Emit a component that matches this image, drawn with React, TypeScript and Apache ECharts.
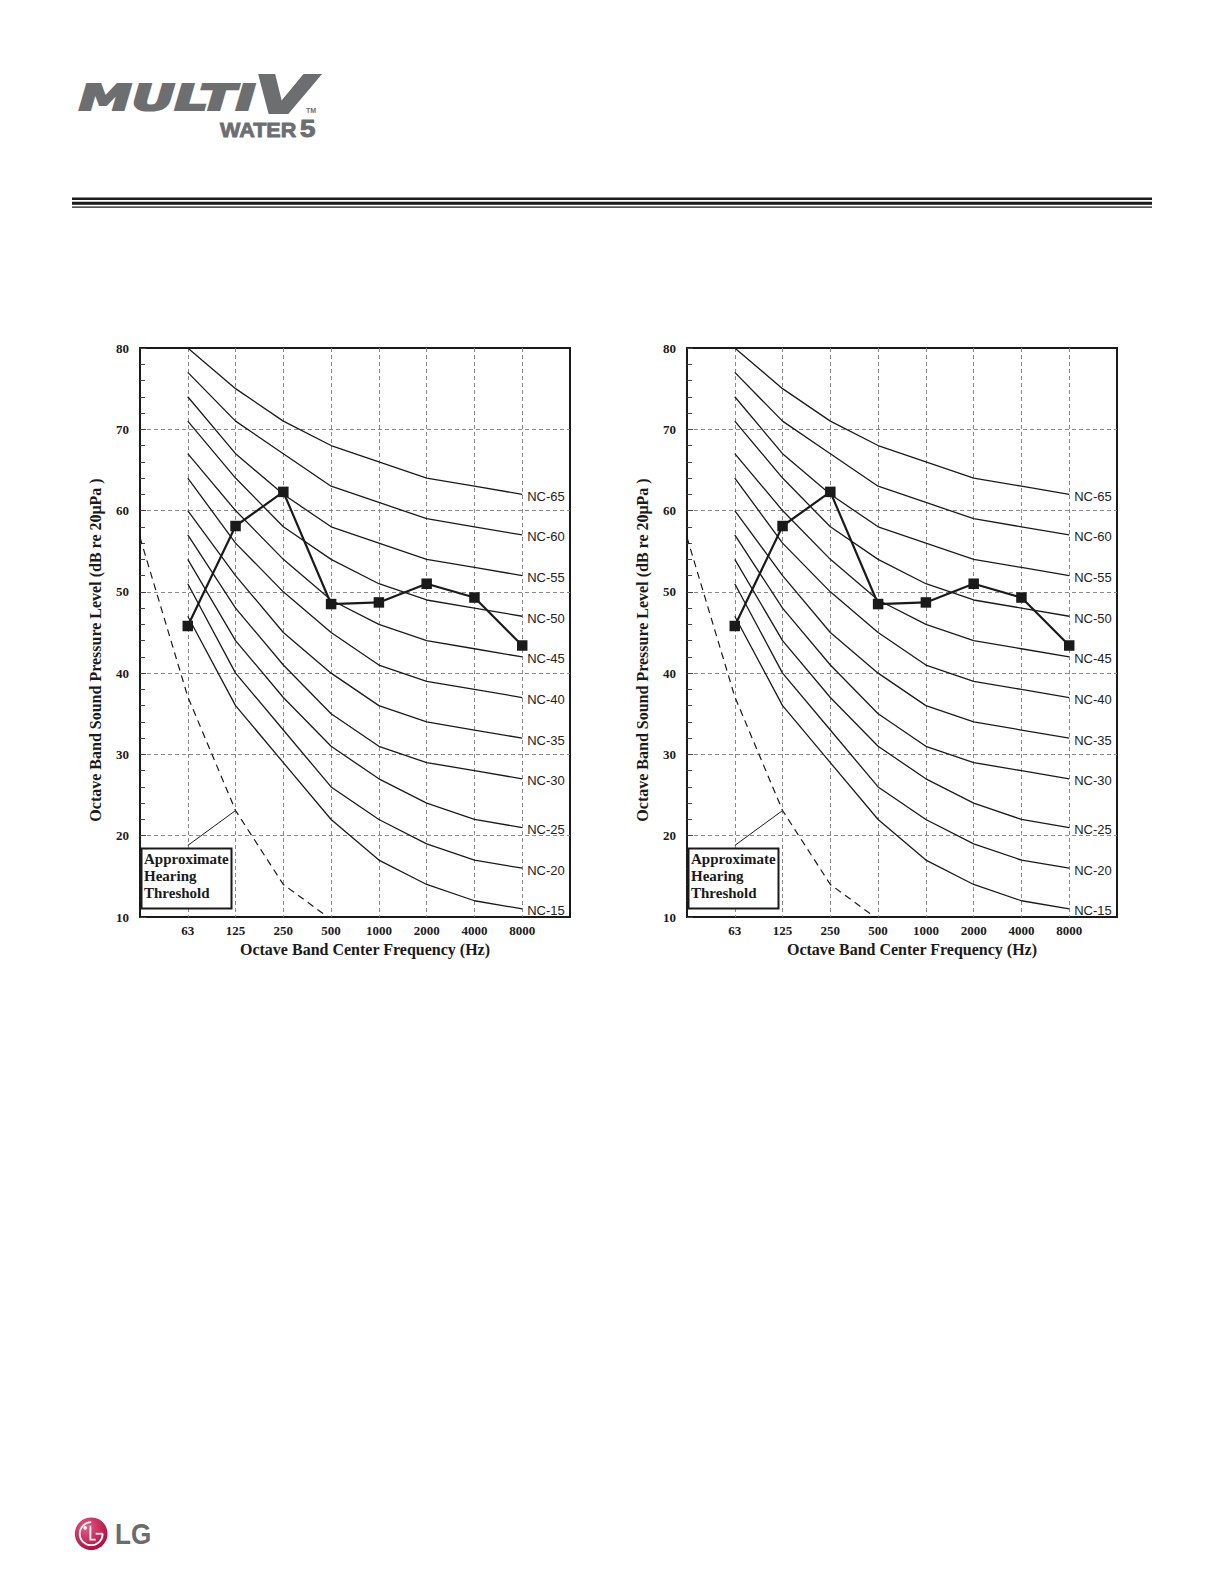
import React, { useEffect, useRef } from "react";
import * as echarts from "echarts";

// ---- data ----
const FREQ_LABELS = ["63", "125", "250", "500", "1000", "2000", "4000", "8000"];
const FREQ_POS = [1, 2, 3, 4, 5, 6, 7, 8];

const NC_65 = [80, 75, 71, 68, 66, 64, 63, 62];
const NC_60 = [77, 71, 67, 63, 61, 59, 58, 57];
const NC_55 = [74, 67, 62, 58, 56, 54, 53, 52];
const NC_50 = [71, 64, 58, 54, 51, 49, 48, 47];
const NC_45 = [67, 60, 54, 49, 46, 44, 43, 42];
const NC_40 = [64, 56, 50, 45, 41, 39, 38, 37];
const NC_35 = [60, 52, 45, 40, 36, 34, 33, 32];
const NC_30 = [57, 48, 41, 35, 31, 29, 28, 27];
const NC_25 = [54, 44, 37, 31, 27, 24, 22, 21];
const NC_20 = [51, 40, 33, 26, 22, 19, 17, 16];
const NC_15 = [47, 36, 29, 22, 17, 14, 12, 11];
const NC_NAMES = ["NC-65", "NC-60", "NC-55", "NC-50", "NC-45", "NC-40", "NC-35", "NC-30", "NC-25", "NC-20", "NC-15"];
const NC_VALUES = [NC_65, NC_60, NC_55, NC_50, NC_45, NC_40, NC_35, NC_30, NC_25, NC_20, NC_15];

const MEASURED = [45.8, 58.1, 62.3, 48.5, 48.7, 51.0, 49.3, 43.4];

const THRESHOLD_X = [0, 1, 2, 3, 4];
const THRESHOLD_DB = [56.7, 37.1, 23.1, 14.0, 9.7];
const ARROW_FROM = [1.0, 18.8];
const ARROW_TO = [2.0, 23.1];

const Y_MIN = 10;
const Y_MAX = 80;
const Y_STEP = 10;

// ---- layout ----
const GRIDS = [
  { left: 140, top: 348, width: 430, height: 569 },
  { left: 687, top: 348, width: 430, height: 569 },
];

const SERIF = "'Liberation Serif', 'Times New Roman', serif";
const SANS = "'Liberation Sans', Arial, sans-serif";
const INK = "#1a1a1a";
const LOGO_GRAY = "#6c6e70";

function pairs(xs: number[], ys: number[]) {
  return xs.map((x, i) => [x, ys[i]]);
}

function buildSeries(idx: number) {
  const out: any[] = [];
  NC_NAMES.forEach((name, k) => {
    out.push({
      type: "line",
      name,
      xAxisIndex: idx,
      yAxisIndex: idx,
      data: pairs(FREQ_POS, NC_VALUES[k]),
      symbol: "none",
      lineStyle: { color: INK, width: 1.3 },
      silent: true,
      endLabel: {
        show: true,
        formatter: "{a}",
        distance: 5,
        offset: [0, 2],
        fontSize: 13,
        fontFamily: SANS,
        color: "#222",
      },
      z: 2,
    });
  });
  out.push({
    type: "line",
    name: "Approximate Hearing Threshold",
    xAxisIndex: idx,
    yAxisIndex: idx,
    data: pairs(THRESHOLD_X, THRESHOLD_DB),
    symbol: "none",
    clip: true,
    lineStyle: { color: INK, width: 1.2, type: [7, 5] },
    silent: true,
    markLine: {
      silent: true,
      symbol: ["none", "arrow"],
      symbolSize: [0, 7],
      label: { show: false },
      lineStyle: { color: INK, width: 1, type: "solid" },
      data: [[{ coord: ARROW_FROM }, { coord: ARROW_TO }]],
    },
    z: 2,
  });
  out.push({
    type: "line",
    name: "Measured",
    xAxisIndex: idx,
    yAxisIndex: idx,
    data: pairs(FREQ_POS, MEASURED),
    symbol: "rect",
    symbolSize: 10.5,
    itemStyle: { color: INK },
    lineStyle: { color: INK, width: 2.2 },
    z: 4,
  });
  return out;
}

function chartGraphics(idx: number) {
  const g = GRIDS[idx];
  const dx = g.left - GRIDS[0].left;
  const els: any[] = [];
  els.push({
    type: "text",
    x: 95 + dx,
    y: 650,
    rotation: Math.PI / 2,
    style: {
      text: "Octave Band Sound Pressure Level (dB re 20μPa )",
      fontFamily: SERIF,
      fontWeight: "bold",
      fontSize: 16,
      fill: INK,
      align: "center",
      verticalAlign: "middle",
    },
  });
  els.push({
    type: "text",
    x: 365 + dx,
    y: 949,
    style: {
      text: "Octave Band Center Frequency (Hz)",
      fontFamily: SERIF,
      fontWeight: "bold",
      fontSize: 16,
      fill: INK,
      align: "center",
      verticalAlign: "middle",
    },
  });
  els.push({
    type: "rect",
    shape: { x: 141.5 + dx, y: 848.5, width: 90, height: 60 },
    style: { fill: "#fff", stroke: INK, lineWidth: 2 },
    z: 10,
  });
  ["Approximate", "Hearing", "Threshold"].forEach((t, i) => {
    els.push({
      type: "text",
      x: 144 + dx,
      y: 859 + i * 17.2,
      z: 11,
      style: {
        text: t,
        fontFamily: SERIF,
        fontWeight: "bold",
        fontSize: 15,
        fill: INK,
        align: "left",
        verticalAlign: "middle",
      },
    });
  });
  return els;
}

function pageGraphics() {
  const els: any[] = [];
  els.push({
    type: "text",
    x: 79,
    y: 98,
    scaleX: 1.47,
    style: {
      text: "MULTI",
      fontFamily: "'DejaVu Sans', sans-serif",
      fontWeight: "bold",
      fontStyle: "italic",
      fontSize: 36,
      fill: LOGO_GRAY,
      stroke: LOGO_GRAY,
      lineWidth: 2.2,
      align: "left",
      verticalAlign: "middle",
    },
  });
  els.push({
    type: "text",
    x: 254,
    y: 95,
    scaleX: 1.5,
    style: {
      text: "V",
      fontFamily: "'DejaVu Sans', sans-serif",
      fontWeight: "bold",
      fontStyle: "italic",
      fontSize: 52,
      fill: LOGO_GRAY,
      stroke: LOGO_GRAY,
      lineWidth: 2,
      align: "left",
      verticalAlign: "middle",
    },
  });
  els.push({
    type: "text",
    x: 306,
    y: 110.5,
    style: {
      text: "TM",
      fontFamily: SANS,
      fontWeight: "bold",
      fontSize: 7,
      fill: LOGO_GRAY,
      align: "left",
      verticalAlign: "middle",
    },
  });
  els.push({
    type: "text",
    x: 220,
    y: 129.5,
    scaleX: 1.08,
    style: {
      text: "WATER",
      fontFamily: SANS,
      fontWeight: "bold",
      fontSize: 20,
      fill: LOGO_GRAY,
      stroke: LOGO_GRAY,
      lineWidth: 0.8,
      align: "left",
      verticalAlign: "middle",
    },
  });
  els.push({
    type: "text",
    x: 300,
    y: 128.5,
    scaleX: 1.2,
    style: {
      text: "5",
      fontFamily: SANS,
      fontWeight: "bold",
      fontSize: 23,
      fill: LOGO_GRAY,
      stroke: LOGO_GRAY,
      lineWidth: 1,
      align: "left",
      verticalAlign: "middle",
    },
  });
  els.push({ type: "rect", shape: { x: 72, y: 197.5, width: 1080, height: 2.5 }, style: { fill: INK } });
  els.push({ type: "rect", shape: { x: 72, y: 201.8, width: 1080, height: 3 }, style: { fill: INK } });
  els.push({ type: "rect", shape: { x: 72, y: 206.6, width: 1080, height: 1.2 }, style: { fill: INK } });
  const cx = 91.2;
  const cy = 1533.7;
  els.push({
    type: "circle",
    shape: { cx, cy, r: 16.3 },
    style: {
      fill: new echarts.graphic.RadialGradient(0.35, 0.3, 0.85, [
        { offset: 0, color: "#ea5a82" },
        { offset: 1, color: "#a50034" },
      ]),
    },
  });
  els.push({
    type: "arc",
    shape: { cx, cy, r: 11.5, startAngle: 0, endAngle: Math.PI * 1.5, clockwise: true },
    style: { stroke: "#fff", lineWidth: 1.8, fill: null },
  });
  els.push({
    type: "line",
    shape: { x1: cx + 4.5, y1: cy, x2: cx + 11.5, y2: cy },
    style: { stroke: "#fff", lineWidth: 1.8 },
  });
  els.push({
    type: "polyline",
    shape: { points: [[cx - 0.8, cy - 8], [cx - 0.8, cy + 6], [cx + 4.5, cy + 6]] },
    style: { stroke: "#fff", lineWidth: 1.8, fill: null },
  });
  els.push({ type: "circle", shape: { cx: cx - 6, cy: cy - 5.8, r: 1.8 }, style: { fill: "#fff" } });
  els.push({
    type: "text",
    x: 115,
    y: 1533.5,
    scaleX: 0.87,
    style: {
      text: "LG",
      fontFamily: SANS,
      fontWeight: "bold",
      fontSize: 30,
      fill: "#6b6b6b",
      align: "left",
      verticalAlign: "middle",
    },
  });
  return els;
}

export default function App() {
  const ref = useRef<HTMLDivElement>(null);
  useEffect(() => {
    if (!ref.current) return;
    const chart = echarts.init(ref.current, null, { renderer: "svg" });
    const dashed = { color: "#8a8a8a", width: 1, type: [4, 3] as any };
    const option: any = {
      animation: false,
      backgroundColor: "#fff",
      grid: GRIDS.map((g) => ({
        ...g,
        show: true,
        borderColor: INK,
        borderWidth: 2,
        backgroundColor: "transparent",
        containLabel: false,
      })),
      xAxis: GRIDS.map((_, i) => ({
        type: "value",
        gridIndex: i,
        min: 0,
        max: 9,
        interval: 1,
        axisLine: { show: false },
        axisTick: { show: false },
        axisLabel: {
          margin: 7,
          fontFamily: SERIF,
          fontWeight: "bold",
          fontSize: 13,
          color: INK,
          showMinLabel: false,
          showMaxLabel: false,
          formatter: (v: number) => {
            const k = FREQ_POS.indexOf(v);
            return k >= 0 ? FREQ_LABELS[k] : "";
          },
        },
        splitLine: { show: true, showMinLine: false, showMaxLine: false, lineStyle: dashed },
      })),
      yAxis: GRIDS.map((_, i) => ({
        type: "value",
        gridIndex: i,
        min: Y_MIN,
        max: Y_MAX,
        interval: Y_STEP,
        axisLine: { show: true, lineStyle: { color: INK, width: 2 } },
        axisTick: { show: true, inside: true, length: 6, lineStyle: { color: "#444", width: 1 } },
        minorTick: { show: true, splitNumber: 5, length: 5, lineStyle: { color: "#444", width: 1 } },
        axisLabel: {
          margin: 11,
          fontFamily: SERIF,
          fontWeight: "bold",
          fontSize: 13,
          color: INK,
        },
        splitLine: { show: true, showMinLine: false, showMaxLine: false, lineStyle: dashed },
      })),
      series: [...buildSeries(0), ...buildSeries(1)],
      graphic: [...pageGraphics(), ...chartGraphics(0), ...chartGraphics(1)],
    };
    chart.setOption(option);
    return () => chart.dispose();
  }, []);
  return (
    <div
      ref={ref}
      style={{ position: "absolute", left: 0, top: 0, width: 1224, height: 1584, background: "#fff" }}
    />
  );
}
